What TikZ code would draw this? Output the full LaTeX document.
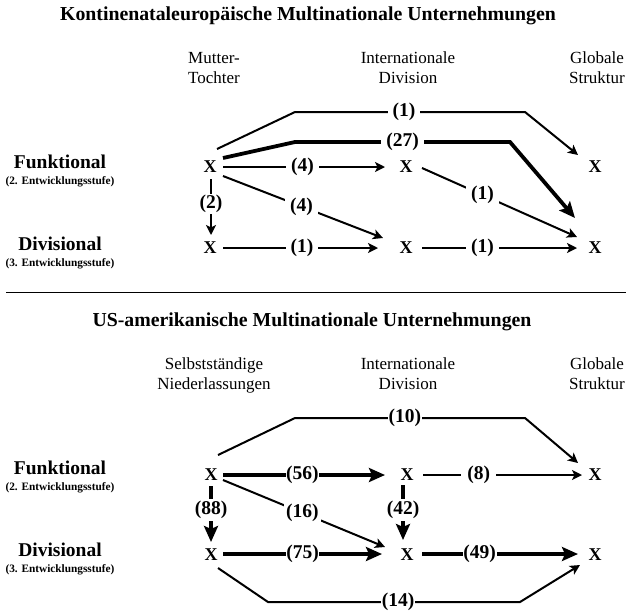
\documentclass[tikz,border=0pt]{standalone}
\usepackage{fontspec}
\setmainfont{Liberation Serif}
\usetikzlibrary{arrows.meta,calc}
\begin{document}
\begin{tikzpicture}[x=1pt,y=-1pt,
  titletext/.style={font=\fontsize{19.8}{22}\selectfont\bfseries, inner sep=0pt, anchor=base},
  colhead/.style={font=\fontsize{17}{20}\selectfont, inner sep=0pt, anchor=base},
  rowhead/.style={font=\fontsize{19.5}{22}\selectfont\bfseries, inner sep=0pt, anchor=base},
  rowsub/.style={font=\fontsize{11.3}{13}\selectfont\bfseries, inner sep=0pt, anchor=base},
  xmark/.style={font=\fontsize{18}{18}\selectfont\bfseries, inner sep=0pt},
  lab/.style={font=\fontsize{19.5}{20}\selectfont\bfseries, fill=white, inner ysep=1.5pt, inner xsep=5pt},
  labtight/.style={lab, inner xsep=0.6pt},
  labmid/.style={lab, inner xsep=2pt},
  conn/.style={line width=2pt, -{Stealth[length=10pt,width=10pt,inset=2.5pt]}},
  heavy/.style={line width=3.8pt, -{Stealth[length=16pt,width=14pt,inset=3pt]}},
  sepline/.style={line width=0.8pt}
]
\useasboundingbox (0,0) rectangle (628,611);

% ---------- upper part ----------
\node[titletext] (t1) at (308,20) {Kontinenataleuropäische Multinationale Unternehmungen};

\node[colhead] (h11) at (214,63.5) {Mutter-};
\node[colhead] (h12) at (214,83.5) {Tochter};
\node[colhead] (h21) at (408,63.5) {Internationale};
\node[colhead] (h22) at (408,83.5) {Division};
\node[colhead] (h31) at (597,63.5) {Globale};
\node[colhead] (h32) at (597,83.5) {Struktur};

\node[rowhead] (r1) at (60,168.5) {Funktional};
\node[rowsub] (r1s) at (60,184.5) {(2. Entwicklungsstufe)};
\node[rowhead] (r2) at (60,250) {Divisional};
\node[rowsub] (r2s) at (60,266) {(3. Entwicklungsstufe)};

\node[xmark] (A1) at (210,167) {X};
\node[xmark] (B1) at (406,167) {X};
\node[xmark] (C1) at (595,167) {X};
\node[xmark] (A2) at (210,248) {X};
\node[xmark] (B2) at (406,248) {X};
\node[xmark] (C2) at (595,248) {X};

\draw[conn] ($(A1)+(7,-18)$) -- (295,112) -- node[lab,pos=0.474] (l1) {(1)} (525,112) -- ($(C1)+(-17,-12)$);
\draw[heavy] ($(A1)+(13,-9)$) -- (295,142) -- node[lab,pos=0.5] (l2) {(27)} (510,142) -- ($(C2)+(-20,-30)$);
\draw[conn] ($(A1)+(13,0)$) -- node[lab,pos=0.49] (l3) {(4)} ($(B1)+(-21,0)$);
\draw[conn] ($(A1)+(13,9)$) -- node[lab,pos=0.49] (l4) {(4)} ($(B2)+(-23,-10)$);
\draw[conn] ($(A1)+(1,12)$) -- node[lab,inner xsep=1pt,inner ysep=1pt,pos=0.45] (l5) {(2)} ($(A2)+(1,-13)$);
\draw[conn] ($(A2)+(13,0)$) -- node[lab,pos=0.51] (l6) {(1)} ($(B2)+(-28,0)$);
\draw[conn] ($(B1)+(16,1)$) -- node[lab,pos=0.39] (l7) {(1)} ($(C2)+(-18,-11)$);
\draw[conn] ($(B2)+(16,0)$) -- node[lab,pos=0.39] (l8) {(1)} ($(C2)+(-18,0)$);

% separator
\coordinate (s1) at (6,292);
\coordinate (s2) at (626,292);
\draw[sepline] (s1) -- (s2);

% ---------- lower part ----------
\node[titletext] (t2) at (312,326) {US-amerikanische Multinationale Unternehmungen};

\node[colhead] (k11) at (214,369.5) {Selbstständige};
\node[colhead] (k12) at (214,389.5) {Niederlassungen};
\node[colhead] (k21) at (408,369.5) {Internationale};
\node[colhead] (k22) at (408,389.5) {Division};
\node[colhead] (k31) at (597,369.5) {Globale};
\node[colhead] (k32) at (597,389.5) {Struktur};

\node[rowhead] (q1) at (60,474) {Funktional};
\node[rowsub] (q1s) at (60,490) {(2. Entwicklungsstufe)};
\node[rowhead] (q2) at (60,556.5) {Divisional};
\node[rowsub] (q2s) at (60,572.5) {(3. Entwicklungsstufe)};

\node[xmark] (D1) at (211,475) {X};
\node[xmark] (E1) at (407,475) {X};
\node[xmark] (F1) at (595,475) {X};
\node[xmark] (D2) at (211,555) {X};
\node[xmark] (E2) at (407,555) {X};
\node[xmark] (F2) at (595,555) {X};

\draw[conn] ($(D1)+(7,-20)$) -- (295,418) -- node[labtight,pos=0.478] (m1) {(10)} (525,418) -- ($(F1)+(-17,-12)$);
\draw[heavy] ($(D1)+(12,0)$) -- node[labtight,pos=0.49] (m2) {(56)} ($(E1)+(-22,0)$);
\draw[conn] ($(E1)+(16,0)$) -- node[lab,inner xsep=6pt,pos=0.35] (m3) {(8)} ($(F1)+(-13,0)$);
\draw[heavy] ($(D1)+(0,11)$) -- node[lab,inner xsep=1pt,inner ysep=2pt,pos=0.43] (m4) {(88)} ($(D2)+(0,-13)$);
\draw[conn] ($(D1)+(12,5)$) -- node[labmid,pos=0.49] (m5) {(16)} ($(E2)+(-22,-8)$);
\draw[heavy] ($(E1)+(-4,10)$) -- node[lab,inner xsep=1pt,inner ysep=2pt,pos=0.45] (m6) {(42)} ($(E2)+(-4,-15)$);
\draw[heavy] ($(D2)+(12,-1)$) -- node[labtight,pos=0.5] (m7) {(75)} ($(E2)+(-25,-1)$);
\draw[heavy] ($(E2)+(15,-1)$) -- node[labtight,pos=0.37] (m8) {(49)} ($(F2)+(-17,-1)$);
\draw[conn] ($(D2)+(7,13)$) -- (268,602) -- node[labtight,pos=0.516] (m9) {(14)} (520,602) -- ($(F2)+(-15,10)$);
\end{tikzpicture}
\end{document}
